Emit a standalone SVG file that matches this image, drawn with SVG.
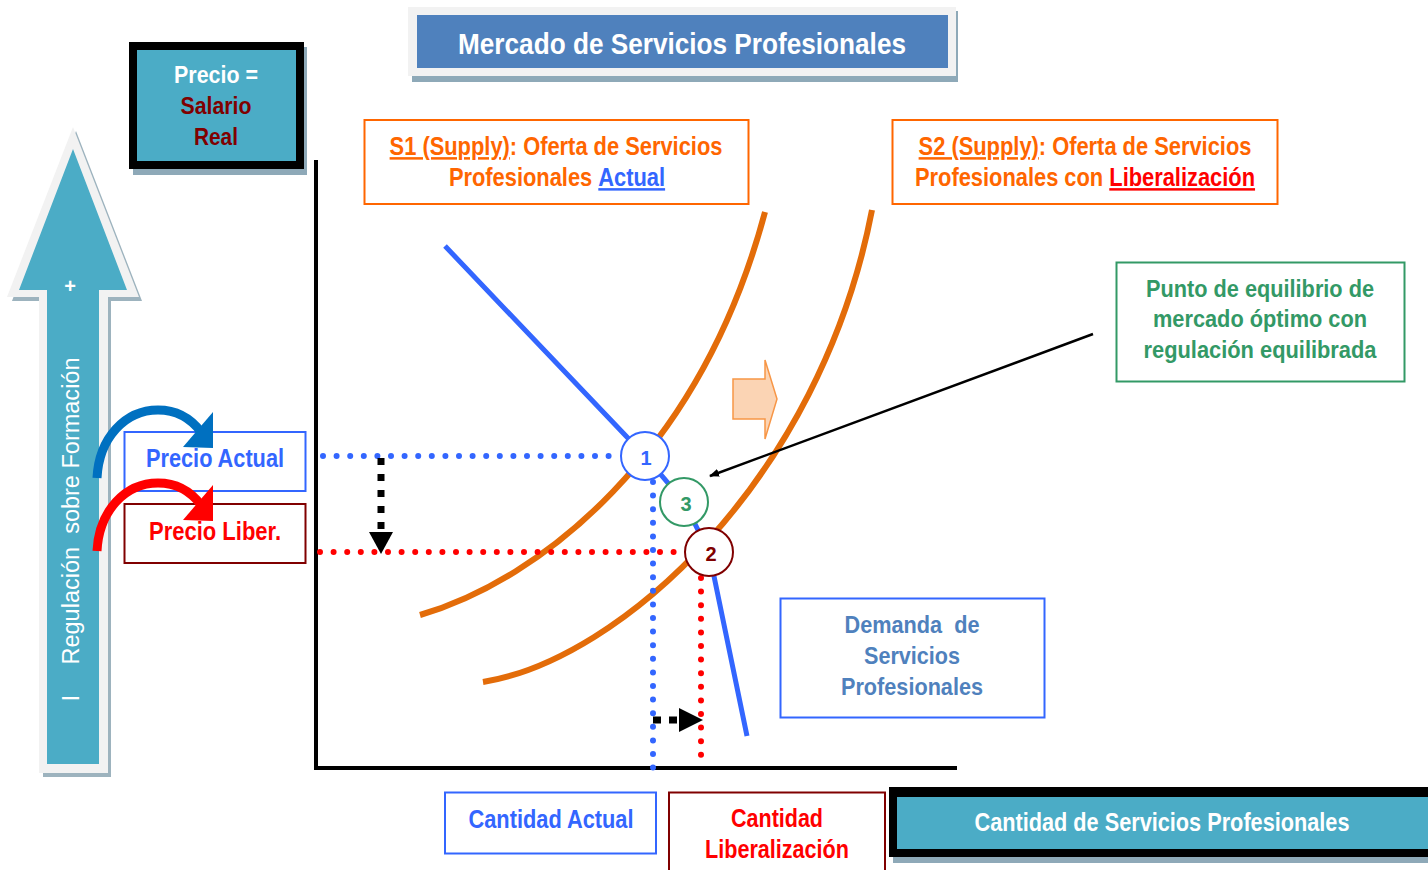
<svg xmlns="http://www.w3.org/2000/svg" width="1428" height="870" viewBox="0 0 1428 870">
<style>
.t{font-family:"Liberation Sans Narrow","Arial Narrow","Liberation Sans",sans-serif;font-weight:bold;text-anchor:middle}
.box{fill:#fff;stroke-width:2}
.dotB{stroke:#3366FF;stroke-width:6;stroke-linecap:round;stroke-dasharray:0 13.6;fill:none}
.dotR{stroke:#FF0000;stroke-width:6;stroke-linecap:round;stroke-dasharray:0 13.6;fill:none}
.sup{fill:none;stroke:#E36C09;stroke-width:6}
</style>
<defs>
<marker id="ah" markerWidth="10" markerHeight="8" refX="9" refY="4" orient="auto" markerUnits="userSpaceOnUse" viewBox="0 0 10 8">
<path d="M0,0 L10,4 L0,8 Z" fill="#000"/>
</marker>
</defs>
<rect width="1428" height="870" fill="#fff"/>

<!-- big left arrow -->
<g id="reg-arrow">
<path d="M76,131 L142,301 L111,301 L111,777 L43,777 L43,301 L12,301 Z" fill="#9DB3BE"/>
<path d="M73,127 L139,297 L108,297 L108,773 L39,773 L39,297 L7,297 Z" fill="#F2F2F2"/>
<path d="M73,149 L127,290 L99,290 L99,764 L47,764 L47,290 L19,290 Z" fill="#4BACC6"/>
<text x="70" y="293" fill="#fff" font-family="Liberation Sans, sans-serif" font-size="20" font-weight="bold" text-anchor="middle">+</text>
<text transform="translate(79,511) rotate(-90)" fill="#fff" font-family="Liberation Sans, sans-serif" font-size="23" text-anchor="middle" xml:space="preserve" textLength="307" lengthAdjust="spacingAndGlyphs">Regulación  sobre Formación</text>
<text transform="translate(79,698) rotate(-90)" fill="#fff" font-family="Liberation Sans, sans-serif" font-size="23" text-anchor="middle">I</text>
</g>

<!-- title -->
<g id="title">
<rect x="412" y="11" width="546" height="71" fill="#8EA9B8"/>
<rect x="408" y="7" width="548" height="69" fill="#F2F2F2"/>
<rect x="417" y="15" width="531" height="53" fill="#4F81BD"/>
<text class="t" x="682" y="54" font-size="30" fill="#fff" textLength="448" lengthAdjust="spacingAndGlyphs">Mercado de Servicios Profesionales</text>
</g>

<!-- precio box -->
<g id="precio">
<rect x="133" y="47" width="174" height="128" fill="#8EA9B8"/>
<rect x="129" y="42" width="175" height="127" fill="#000"/>
<rect x="137" y="50" width="159" height="111" fill="#4BACC6"/>
<text class="t" x="216" y="83" font-size="24" fill="#fff" textLength="84" lengthAdjust="spacingAndGlyphs">Precio =</text>
<text class="t" x="216" y="114" font-size="24" fill="#800000" textLength="71" lengthAdjust="spacingAndGlyphs">Salario</text>
<text class="t" x="216" y="145" font-size="24" fill="#800000" textLength="44" lengthAdjust="spacingAndGlyphs">Real</text>
</g>

<!-- axes -->
<g id="axes" stroke="#000" stroke-width="4" fill="none">
<path d="M316,160 L316,768 L957,768"/>
</g>

<!-- supply boxes -->
<g id="s1-label">
<rect class="box" x="364.5" y="120" width="384" height="84" stroke="#FF6600"/>
<text class="t" transform="translate(556,155) scale(0.875,1)" x="0" y="0" font-size="25" fill="#FF6600"><tspan text-decoration="underline">S1 (Supply)</tspan>: Oferta de Servicios</text>
<text class="t" transform="translate(557,186) scale(0.875,1)" x="0" y="0" font-size="25" fill="#FF6600">Profesionales <tspan fill="#3366FF" text-decoration="underline">Actual</tspan></text>
</g>
<g id="s2-label">
<rect class="box" x="892.5" y="120" width="385" height="84" stroke="#FF6600"/>
<text class="t" transform="translate(1085,155) scale(0.875,1)" x="0" y="0" font-size="25" fill="#FF6600"><tspan text-decoration="underline">S2 (Supply)</tspan>: Oferta de Servicios</text>
<text class="t" transform="translate(1085,186) scale(0.875,1)" x="0" y="0" font-size="25" fill="#FF6600">Profesionales con <tspan fill="#FF0000" text-decoration="underline">Liberalización</tspan></text>
</g>
<g id="equilibrio-label">
<rect class="box" x="1116.5" y="262.5" width="288" height="119" stroke="#339966"/>
<text class="t" x="1260" y="297" font-size="24" fill="#339966" textLength="228" lengthAdjust="spacingAndGlyphs">Punto de equilibrio de</text>
<text class="t" x="1260" y="327" font-size="24" fill="#339966" textLength="214" lengthAdjust="spacingAndGlyphs">mercado óptimo con</text>
<text class="t" x="1260" y="358" font-size="24" fill="#339966" textLength="233" lengthAdjust="spacingAndGlyphs">regulación equilibrada</text>
</g>
<g id="demanda-label">
<rect class="box" x="780.5" y="598.5" width="264" height="119" stroke="#3366FF"/>
<text class="t" x="912" y="633" font-size="24" fill="#4F81BD" xml:space="preserve" textLength="135" lengthAdjust="spacingAndGlyphs">Demanda  de</text>
<text class="t" x="912" y="664" font-size="24" fill="#4F81BD" textLength="96" lengthAdjust="spacingAndGlyphs">Servicios</text>
<text class="t" x="912" y="695" font-size="24" fill="#4F81BD" textLength="142" lengthAdjust="spacingAndGlyphs">Profesionales</text>
</g>

<!-- left price labels -->
<g id="precio-actual">
<rect class="box" x="124.5" y="432" width="181" height="59" stroke="#3366FF" stroke-width="1.5"/>
<text class="t" x="215" y="467" font-size="25" fill="#3366FF" textLength="138" lengthAdjust="spacingAndGlyphs">Precio Actual</text>
</g>
<g id="precio-liber">
<rect class="box" x="124.5" y="504" width="181" height="59" stroke="#800000" stroke-width="1.5"/>
<text class="t" x="215" y="540" font-size="25" fill="#FF0000" textLength="132" lengthAdjust="spacingAndGlyphs">Precio Liber.</text>
</g>

<!-- bottom labels -->
<g id="cantidad-actual">
<rect class="box" x="445" y="792.5" width="211" height="61" stroke="#3366FF"/>
<text class="t" x="551" y="828" font-size="25" fill="#3366FF" textLength="165" lengthAdjust="spacingAndGlyphs">Cantidad Actual</text>
</g>
<g id="cantidad-liber">
<rect class="box" x="669" y="792.5" width="216" height="90" stroke="#800000"/>
<text class="t" x="777" y="827" font-size="25" fill="#FF0000" textLength="92" lengthAdjust="spacingAndGlyphs">Cantidad</text>
<text class="t" x="777" y="858" font-size="25" fill="#FF0000" textLength="144" lengthAdjust="spacingAndGlyphs">Liberalización</text>
</g>
<g id="cantidad-axis">
<rect x="893" y="795" width="540" height="68" fill="#8EA9B8"/>
<rect x="889" y="787" width="545" height="70" fill="#000"/>
<rect x="897" y="797" width="535" height="52" fill="#4BACC6"/>
<text class="t" x="1162" y="831" font-size="25" fill="#fff" textLength="375" lengthAdjust="spacingAndGlyphs">Cantidad de Servicios Profesionales</text>
</g>

<!-- connectors and curves -->
<g id="connectors">
<path class="sup" d="M420,615 C540,580 700,455 765,212"/>
<path class="sup" d="M483,682 C620,660 820,480 872,210"/>
<path d="M445,246 L645,456 L684,502 L709,552 L747,736" fill="none" stroke="#3366FF" stroke-width="5"/>
<path class="dotB" d="M323,456 L615,456"/>
<path class="dotB" d="M653,482 L653,768"/>
<path class="dotR" d="M320,552 L683,552"/>
<path class="dotR" d="M701,578 L701,768"/>
<path d="M381,458 L381,532" stroke="#000" stroke-width="7" stroke-dasharray="7 9" fill="none"/>
<path d="M369,532 L393,532 L381,554 Z" fill="#000"/>
<path d="M653,720 L679,720" stroke="#000" stroke-width="7" stroke-dasharray="8 8" fill="none"/>
<path d="M679,708 L679,732 L703,720 Z" fill="#000"/>
<path d="M733,379 L765,379 L765,360 L777,399 L765,439 L765,419 L733,419 Z" fill="#FBD4B4" stroke="#F79646" stroke-width="1.5"/>
<path d="M1093,334 L710,476" stroke="#000" stroke-width="2.5" fill="none" marker-end="url(#ah)"/>
<path d="M97,478 C99,438 125,410 158,410 C178,410 192,420 201,432" fill="none" stroke="#0070C0" stroke-width="9"/>
<path d="M213,412 L213,448 L183,447 Z" fill="#0070C0"/>
<path d="M97,551 C99,511 125,483 158,483 C178,483 192,493 201,505" fill="none" stroke="#FF0000" stroke-width="9"/>
<path d="M213,485 L213,521 L183,520 Z" fill="#FF0000"/>
</g>

<!-- equilibrium points -->
<g id="pt1">
<circle cx="645" cy="456" r="24" fill="#fff" stroke="#3366FF" stroke-width="2"/>
<text class="t" x="646" y="465" font-size="20" fill="#3366FF">1</text>
</g>
<g id="pt3">
<circle cx="684" cy="502" r="24" fill="#fff" stroke="#339966" stroke-width="2"/>
<text class="t" x="686" y="511" font-size="20" fill="#339966">3</text>
</g>
<g id="pt2">
<circle cx="709" cy="552" r="24" fill="#fff" stroke="#800000" stroke-width="2"/>
<text class="t" x="711" y="561" font-size="20" fill="#800000">2</text>
</g>
</svg>
